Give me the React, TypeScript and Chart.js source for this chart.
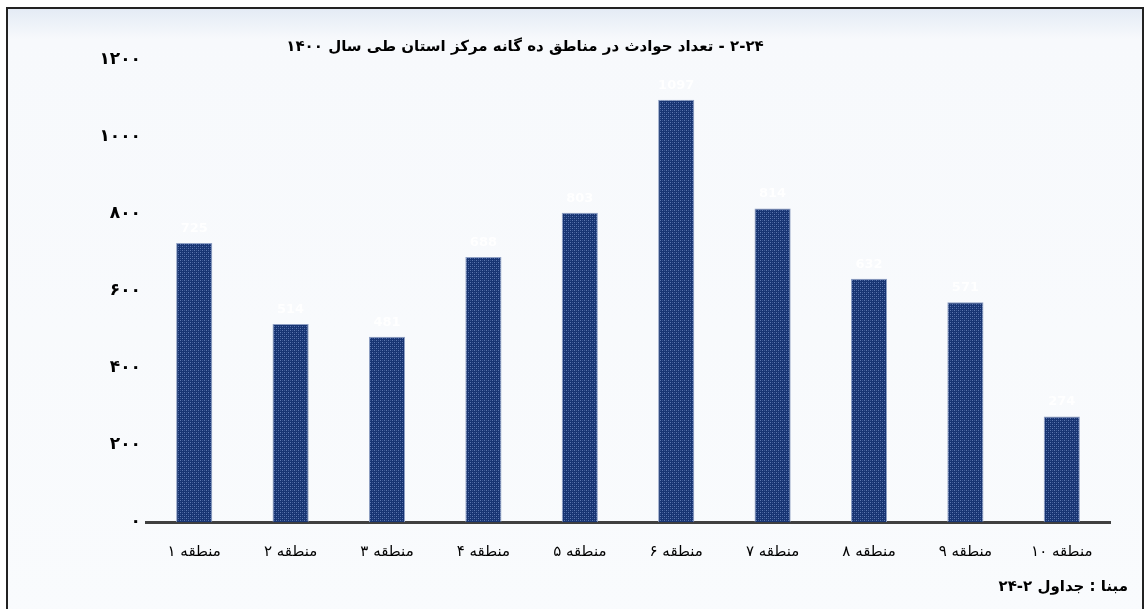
import React, { useEffect, useRef } from "react";
import { Chart, registerables } from "chart.js";

Chart.register(...registerables);

const categories = ["منطقه ۱", "منطقه ۲", "منطقه ۳", "منطقه ۴", "منطقه ۵", "منطقه ۶", "منطقه ۷", "منطقه ۸", "منطقه ۹", "منطقه ۱۰"];
const accidents = [725, 514, 481, 688, 803, 1097, 814, 632, 571, 274];
const yTicks = [0, 200, 400, 600, 800, 1000, 1200];
const titleText = "۲-۲۴ - تعداد حوادث در مناطق ده گانه مرکز استان طی سال ۱۴۰۰";
const sourceText = "مبنا : جداول ۲-۲۴";

const faDigits = (n: number | string) =>
  String(n).replace(/[0-9]/g, (d) => "۰۱۲۳۴۵۶۷۸۹"[Number(d)]);

function makePattern(): CanvasPattern | string {
  const c = document.createElement("canvas");
  c.width = 4;
  c.height = 4;
  const g = c.getContext("2d");
  if (!g) return "#1c3a78";
  g.fillStyle = "#173472";
  g.fillRect(0, 0, 4, 4);
  g.fillStyle = "#5d78b0";
  g.fillRect(0, 0, 1, 1);
  g.fillRect(2, 2, 1, 1);
  g.fillStyle = "#3a5592";
  g.fillRect(2, 0, 1, 1);
  g.fillRect(0, 2, 1, 1);
  const p = g.createPattern(c, "repeat");
  return p || "#1c3a78";
}

const valueLabels = {
  id: "valueLabels",
  afterDatasetsDraw(chart: any) {
    const ctx = chart.ctx;
    const meta = chart.getDatasetMeta(0);
    ctx.save();
    ctx.fillStyle = "rgba(255,255,255,0.92)";
    ctx.font = "bold 13px 'DejaVu Sans', sans-serif";
    ctx.textAlign = "center";
    ctx.textBaseline = "bottom";
    meta.data.forEach((bar: any, i: number) => {
      ctx.fillText(String(accidents[i]), bar.x, bar.y - 8);
    });
    ctx.restore();
  },
};

export default function App() {
  const ref = useRef<HTMLCanvasElement>(null);
  useEffect(() => {
    document.body.style.margin = "0";
    if (!ref.current) return;
    const chart = new Chart(ref.current, {
      type: "bar",
      data: {
        labels: categories,
        datasets: [
          {
            data: accidents,
            backgroundColor: makePattern() as any,
            borderColor: "#8fa0c4",
            borderWidth: 1,
            barPercentage: 0.375,
            categoryPercentage: 1,
          },
        ],
      },
      options: {
        animation: false,
        responsive: false,
        maintainAspectRatio: false,
        layout: { padding: { left: 0, right: 36, top: 60, bottom: 27 } },
        plugins: {
          legend: { display: false },
          title: { display: false },
          tooltip: { enabled: false },
        },
        scales: {
          x: {
            grid: { display: false, drawTicks: false },
            border: { display: true, color: "#404040", width: 3 },
            ticks: {
              color: "#000",
              font: { family: "'DejaVu Sans', sans-serif", size: 15 },
              padding: 21,
              maxRotation: 0,
            },
            afterFit: (s: any) => {
              s.height = 60;
            },
          },
          y: {
            min: 0,
            max: 1200,
            afterBuildTicks: (s: any) => {
              s.ticks = yTicks.map((v) => ({ value: v }));
            },
            grid: { display: false, drawTicks: false },
            border: { display: false },
            ticks: {
              color: "#000",
              font: { family: "'DejaVu Sans', sans-serif", size: 17, weight: "bold" },
              padding: 5,
              callback: (v: any) => faDigits(v),
            },
            afterFit: (s: any) => {
              s.width = 146;
            },
          },
        },
      },
      plugins: [valueLabels],
    });
    return () => chart.destroy();
  }, []);

  return (
    <div style={{ position: "relative", width: 1146, height: 609, overflow: "hidden", background: "#fff" }}>
      <div
        style={{
          position: "absolute",
          left: 6,
          top: 7,
          width: 1134,
          height: 620,
          borderLeft: "2px solid #222",
          borderTop: "2px solid #222",
          borderRight: "2px solid #222",
          background: "linear-gradient(to bottom, #e4ebf5 0px, #f7f9fc 30px, #f9fbfd 100%)",
        }}
      />
      <canvas ref={ref} width={1146} height={609} style={{ position: "absolute", left: 0, top: 0, width: 1146, height: 609 }} />
      <div
        dir="rtl"
        style={{
          position: "absolute",
          left: 275,
          width: 500,
          top: 37,
          textAlign: "center",
          fontFamily: "'DejaVu Sans', sans-serif",
          fontWeight: "bold",
          fontSize: 15,
          color: "#000",
          whiteSpace: "nowrap",
        }}
      >
        {titleText}
      </div>
      <div
        dir="rtl"
        style={{
          position: "absolute",
          right: 1146 - 1128,
          top: 577,
          fontFamily: "'DejaVu Sans', sans-serif",
          fontWeight: "bold",
          fontSize: 15,
          color: "#000",
          whiteSpace: "nowrap",
        }}
      >
        {sourceText}
      </div>
    </div>
  );
}
